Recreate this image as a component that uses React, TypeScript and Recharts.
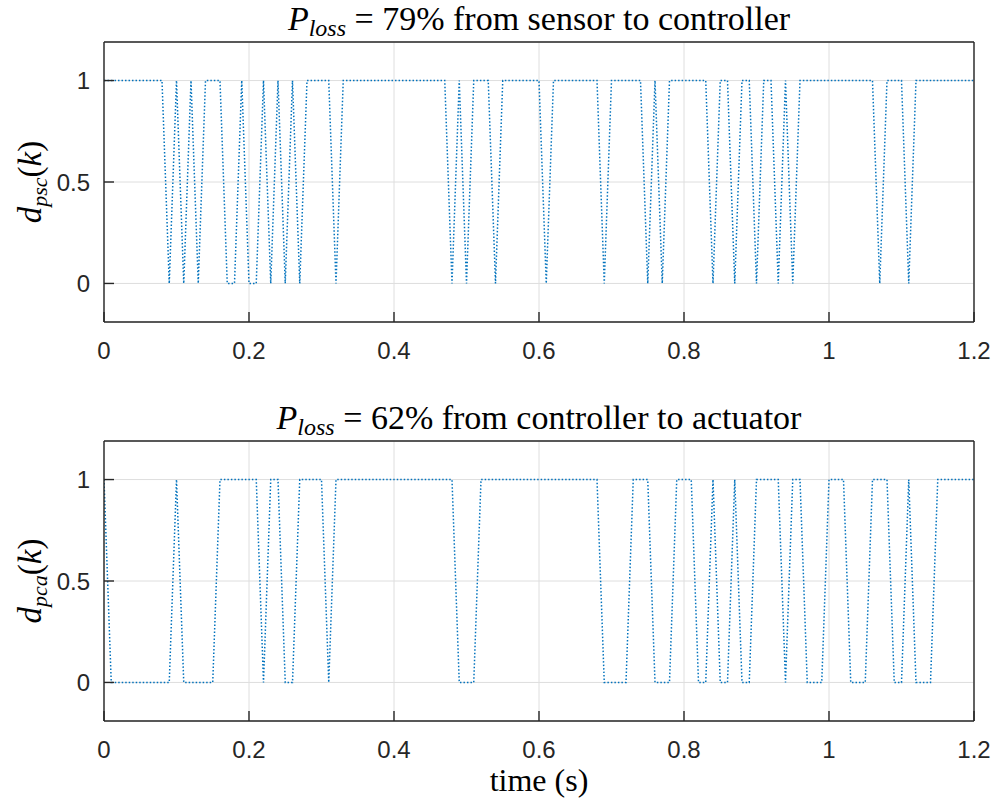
import React from 'react';
import { LineChart, Line, XAxis, YAxis, CartesianGrid } from 'recharts';

// packet arrival flags, one sample every 10 ms from 0 to 1.2 s
const sampleTime = 0.01;
const timeTicks = [0, 0.2, 0.4, 0.6, 0.8, 1, 1.2];
const levelTicks = [0, 0.5, 1];

// sensor -> controller
const dPsc = [
  1, 1, 1, 1, 1, 1, 1, 1, 1, 0,
  1, 0, 1, 0, 1, 1, 1, 0, 0, 1,
  0, 0, 1, 0, 1, 0, 1, 0, 1, 1,
  1, 1, 0, 1, 1, 1, 1, 1, 1, 1,
  1, 1, 1, 1, 1, 1, 1, 1, 0, 1,
  0, 1, 1, 1, 0, 1, 1, 1, 1, 1,
  1, 0, 1, 1, 1, 1, 1, 1, 1, 0,
  1, 1, 1, 1, 1, 0, 1, 0, 1, 1,
  1, 1, 1, 1, 0, 1, 1, 0, 1, 1,
  0, 1, 1, 0, 1, 0, 1, 1, 1, 1,
  1, 1, 1, 1, 1, 1, 1, 0, 1, 1,
  1, 0, 1, 1, 1, 1, 1, 1, 1, 1,
  1,
];

// controller -> actuator
const dPca = [
  1, 0, 0, 0, 0, 0, 0, 0, 0, 0,
  1, 0, 0, 0, 0, 0, 1, 1, 1, 1,
  1, 1, 0, 1, 1, 0, 0, 1, 1, 1,
  1, 0, 1, 1, 1, 1, 1, 1, 1, 1,
  1, 1, 1, 1, 1, 1, 1, 1, 1, 0,
  0, 0, 1, 1, 1, 1, 1, 1, 1, 1,
  1, 1, 1, 1, 1, 1, 1, 1, 1, 0,
  0, 0, 0, 1, 1, 1, 0, 0, 0, 1,
  1, 1, 0, 0, 1, 0, 0, 1, 0, 0,
  1, 1, 1, 1, 0, 1, 1, 0, 0, 0,
  1, 1, 1, 0, 0, 0, 1, 1, 1, 0,
  0, 1, 0, 0, 0, 1, 1, 1, 1, 1,
  1,
];

const toRows = (values: number[]) => values.map((v, i) => ({ t: i * sampleTime, d: v }));

const AXIS = '#262626';
const tickFont = { fill: AXIS, fontSize: 24, fontFamily: 'Liberation Sans, Arial, sans-serif' };
const serif = 'Liberation Serif, Times New Roman, serif';

const Panel = ({ values, top }: { values: number[]; top: number }) => (
  <div style={{ position: 'absolute', left: 0, top }}>
    <LineChart width={999} height={400} data={toRows(values)} margin={{ top: 0, right: 0, bottom: 0, left: 0 }}>
      <CartesianGrid stroke="#dedede" strokeWidth={1} />
      <XAxis
        dataKey="t"
        type="number"
        domain={[0, 1.2]}
        ticks={timeTicks}
        interval={0}
        height={78}
        tickSize={-10}
        tickMargin={30}
        allowDataOverflow
        axisLine={{ stroke: AXIS, strokeWidth: 1.4 }}
        tickLine={{ stroke: AXIS, strokeWidth: 1.4 }}
        tick={tickFont}
      />
      <XAxis
        xAxisId="top"
        orientation="top"
        type="number"
        domain={[0, 1.2]}
        ticks={timeTicks}
        interval={0}
        height={42}
        tickSize={-10}
        tick={false}
        allowDataOverflow
        axisLine={{ stroke: AXIS, strokeWidth: 1.4 }}
        tickLine={{ stroke: AXIS, strokeWidth: 1.4 }}
      />
      <YAxis
        type="number"
        domain={[-0.19, 1.19]}
        ticks={levelTicks}
        interval={0}
        width={104}
        tickSize={-10}
        tickMargin={24}
        allowDataOverflow
        axisLine={{ stroke: AXIS, strokeWidth: 1.4 }}
        tickLine={{ stroke: AXIS, strokeWidth: 1.4 }}
        tick={tickFont}
      />
      <YAxis
        yAxisId="right"
        orientation="right"
        type="number"
        domain={[-0.19, 1.19]}
        ticks={levelTicks}
        interval={0}
        width={25}
        tickSize={-10}
        tick={false}
        allowDataOverflow
        axisLine={{ stroke: AXIS, strokeWidth: 1.4 }}
        tickLine={{ stroke: AXIS, strokeWidth: 1.4 }}
      />
      <Line
        dataKey="d"
        type="linear"
        stroke="#0072BD"
        strokeWidth={1.5}
        strokeDasharray="1.5 2"
        dot={false}
        isAnimationActive={false}
      />
    </LineChart>
  </div>
);

const Title = ({ y, pct, text }: { y: number; pct: string; text: string }) => (
  <text x={539} y={y} textAnchor="middle" fontFamily={serif} fontSize={34} fill="#000">
    <tspan fontStyle="italic">P</tspan>
    <tspan fontStyle="italic" fontSize={24} dy={6}>loss</tspan>
    <tspan dy={-6}>{` = ${pct}% ${text}`}</tspan>
  </text>
);

const YLabel = ({ cy, sub }: { cy: number; sub: string }) => (
  <text x={41} y={cy} transform={`rotate(-90 41 ${cy})`} textAnchor="middle" fontFamily={serif} fontSize={33} fill="#000">
    <tspan fontStyle="italic">d</tspan>
    <tspan fontStyle="italic" fontSize={22} dy={6}>{sub}</tspan>
    <tspan dy={-6}>(</tspan>
    <tspan fontStyle="italic">k</tspan>
    <tspan>)</tspan>
  </text>
);

export default function App() {
  return (
    <div style={{ position: 'absolute', left: 0, top: 0, width: 999, height: 806, background: '#fff' }}>
      <Panel values={dPsc} top={0} />
      <Panel values={dPca} top={399} />
      <svg width={999} height={806} style={{ position: 'absolute', left: 0, top: 0, pointerEvents: 'none' }}>
        <Title y={30} pct="79" text="from sensor to controller" />
        <Title y={429} pct="62" text="from controller to actuator" />
        <YLabel cy={182} sub="psc" />
        <YLabel cy={581} sub="pca" />
        <text x={539} y={791} textAnchor="middle" fontFamily={serif} fontSize={32} fill="#000">time (s)</text>
      </svg>
    </div>
  );
}
